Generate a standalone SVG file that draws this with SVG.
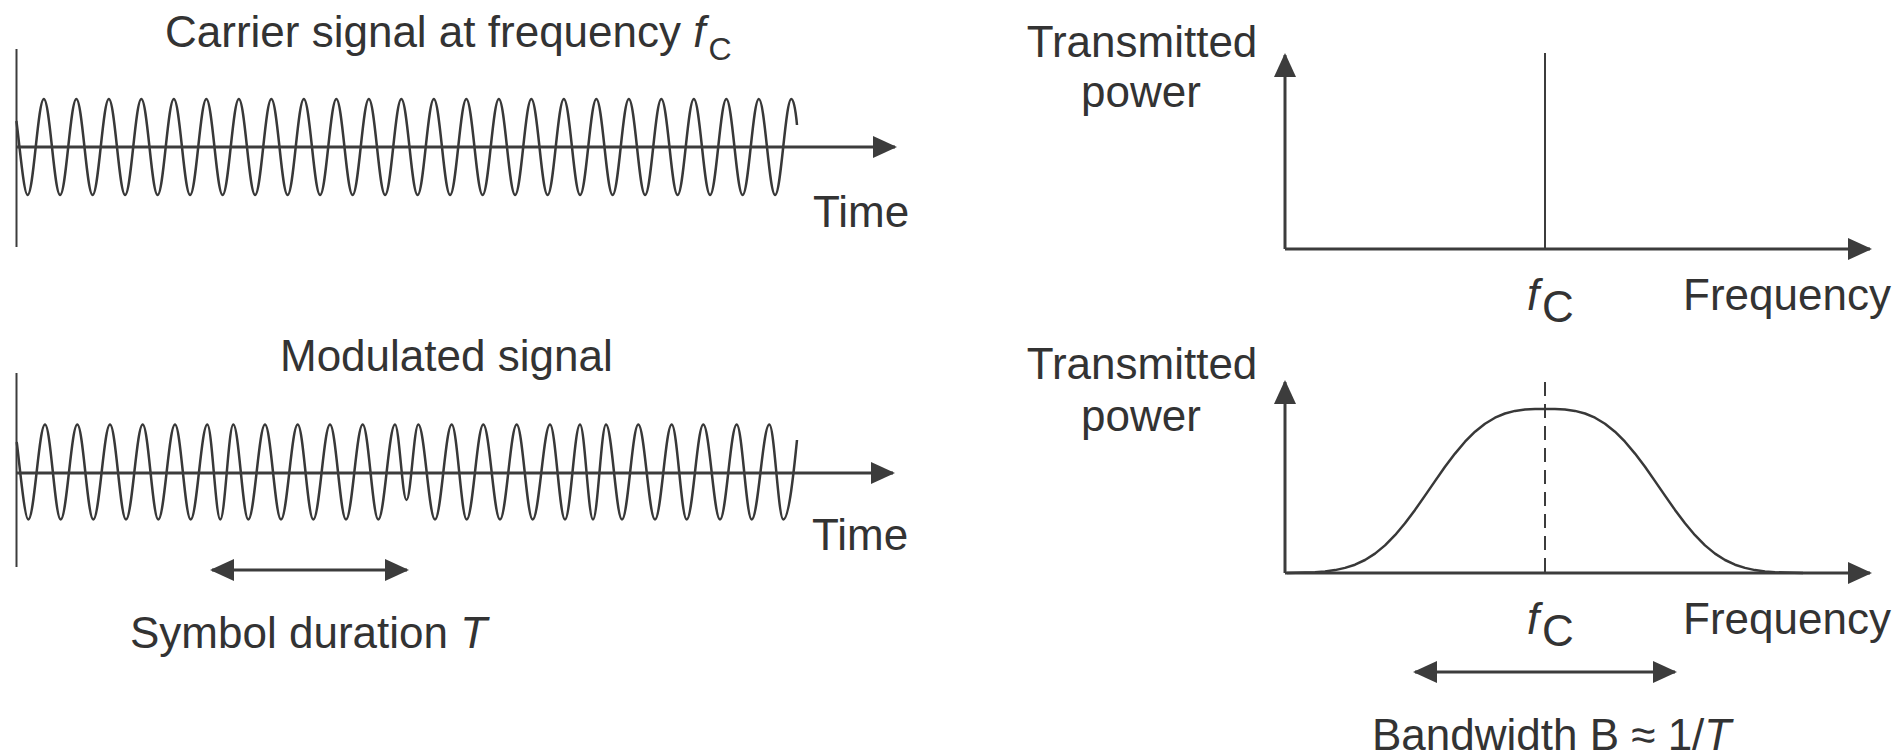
<svg xmlns="http://www.w3.org/2000/svg" width="1892" height="756" viewBox="0 0 1892 756">
<style>
  text { font-family: "Liberation Sans", Arial, Helvetica, sans-serif; font-size: 44px; fill: #333; }
  .it { font-style: italic; }
  .axis { stroke: #3c3c3c; stroke-width: 3; fill: none; }
  .thin { stroke: #3c3c3c; stroke-width: 2; fill: none; }
  .wave { stroke: #383838; stroke-width: 2.5; fill: none; stroke-linejoin: round; }
  .dash { stroke: #3c3c3c; stroke-width: 2; stroke-dasharray: 14 8; fill: none; }
</style>
<defs>
  <marker id="ah" markerUnits="userSpaceOnUse" markerWidth="24" markerHeight="22" viewBox="0 0 24 22" refX="22" refY="11" orient="auto-start-reverse">
    <path d="M0,0 L24,11 L0,22 z" fill="#3c3c3c"/>
  </marker>
</defs>
<rect width="1892" height="756" fill="#fff"/>

<g id="carrier-signal">
  <text x="165" y="47">Carrier signal at frequency <tspan class="it">f</tspan><tspan font-size="32" dx="3" dy="13">C</tspan></text>
  <path class="wave" d="M16.4,121 C20.1,149.5 23.9,195 27.6,195 c5.905,0 10.345,-96 16.25,-96 c5.905,0 10.345,96 16.25,96 c5.905,0 10.345,-96 16.25,-96 c5.905,0 10.345,96 16.25,96 c5.905,0 10.345,-96 16.25,-96 c5.905,0 10.345,96 16.25,96 c5.905,0 10.345,-96 16.25,-96 c5.905,0 10.345,96 16.25,96 c5.905,0 10.345,-96 16.25,-96 c5.905,0 10.345,96 16.25,96 c5.905,0 10.345,-96 16.25,-96 c5.905,0 10.345,96 16.25,96 c5.905,0 10.345,-96 16.25,-96 c5.905,0 10.345,96 16.25,96 c5.905,0 10.345,-96 16.25,-96 c5.905,0 10.345,96 16.25,96 c5.905,0 10.345,-96 16.25,-96 c5.905,0 10.345,96 16.25,96 c5.905,0 10.345,-96 16.25,-96 c5.905,0 10.345,96 16.25,96 c5.905,0 10.345,-96 16.25,-96 c5.905,0 10.345,96 16.25,96 c5.905,0 10.345,-96 16.25,-96 c5.905,0 10.345,96 16.25,96 c5.905,0 10.345,-96 16.25,-96 c5.905,0 10.345,96 16.25,96 c5.905,0 10.345,-96 16.25,-96 c5.905,0 10.345,96 16.25,96 c5.905,0 10.345,-96 16.25,-96 c5.905,0 10.345,96 16.25,96 c5.905,0 10.345,-96 16.25,-96 c5.905,0 10.345,96 16.25,96 c5.905,0 10.345,-96 16.25,-96 c5.905,0 10.345,96 16.25,96 c5.905,0 10.345,-96 16.25,-96 c5.905,0 10.345,96 16.25,96 c5.905,0 10.345,-96 16.25,-96 c5.905,0 10.345,96 16.25,96 c5.905,0 10.345,-96 16.25,-96 c5.905,0 10.345,96 16.25,96 c5.905,0 10.345,-96 16.25,-96 c5.905,0 10.345,96 16.25,96 c5.905,0 10.345,-96 16.25,-96 c5.905,0 10.345,96 16.25,96 c5.905,0 10.345,-96 16.25,-96 c5.905,0 10.345,96 16.25,96 c5.905,0 10.345,-96 16.25,-96 c2,0 4,8 5.65,26"/>
  <text x="813" y="227">Time</text>
</g>

<g id="modulated-signal">
  <text x="280" y="371">Modulated signal</text>
  <path class="wave" d="M16.7,442 C19.5,463 24.5,519.5 28.3,519.5 C34.37,519.5 38.93,424.5 45,424.5 C50.71,424.5 54.99,519.5 60.7,519.5 C66.73,519.5 71.27,424.5 77.3,424.5 C83.11,424.5 87.49,519.5 93.3,519.5 C99.37,519.5 103.93,424.5 110,424.5 C115.81,424.5 120.19,519.5 126,519.5 C132.07,519.5 136.63,424.5 142.7,424.5 C148.37,424.5 152.63,519.5 158.3,519.5 C164.37,519.5 168.93,424.5 175,424.5 C180.71,424.5 184.99,519.5 190.7,519.5 C196.73,519.5 201.27,424.5 207.3,424.5 C212.02,424.5 215.58,519.5 220.3,519.5 C225.02,519.5 228.58,424.5 233.3,424.5 C238.75,424.5 242.85,519.5 248.3,519.5 C254.37,519.5 258.93,424.5 265,424.5 C270.81,424.5 275.19,519.5 281,519.5 C287.07,519.5 291.63,424.5 297.7,424.5 C303.37,424.5 307.63,519.5 313.3,519.5 C319.37,519.5 323.93,424.5 330,424.5 C335.81,424.5 340.19,519.5 346,519.5 C352.07,519.5 356.63,424.5 362.7,424.5 C368.37,424.5 372.63,519.5 378.3,519.5 C384.37,519.5 388.93,424.5 395,424.5 C399.18,424.5 402.32,500 406.5,500 C410.79,500 414.01,424.5 418.3,424.5 C424.37,424.5 428.93,519.5 435,519.5 C441.07,519.5 445.63,424.5 451.7,424.5 C457.15,424.5 461.25,519.5 466.7,519.5 C472.73,519.5 477.27,424.5 483.3,424.5 C489.37,424.5 493.93,519.5 500,519.5 C506.07,519.5 510.63,424.5 516.7,424.5 C522.51,424.5 526.89,519.5 532.7,519.5 C538.99,519.5 543.71,424.5 550,424.5 C555.45,424.5 559.55,519.5 565,519.5 C570.45,519.5 574.55,424.5 580,424.5 C584.72,424.5 588.28,519.5 593,519.5 C597.72,519.5 601.28,424.5 606,424.5 C611.81,424.5 616.19,519.5 622,519.5 C627.92,519.5 632.38,424.5 638.3,424.5 C644.37,424.5 648.93,519.5 655,519.5 C661.07,519.5 665.63,424.5 671.7,424.5 C677.15,424.5 681.25,519.5 686.7,519.5 C692.73,519.5 697.27,424.5 703.3,424.5 C709.37,424.5 713.93,519.5 720,519.5 C726.07,519.5 730.63,424.5 736.7,424.5 C742.15,424.5 746.25,519.5 751.7,519.5 C758.1,519.5 762.9,424.5 769.3,424.5 C774.39,424.5 778.21,519.5 783.3,519.5 C789,519.5 794,470 797,440"/>
  <text x="812" y="550">Time</text>
  <text x="130" y="648">Symbol duration <tspan class="it">T</tspan></text>
</g>

<g id="carrier-spectrum">
  <text x="1142" y="57" text-anchor="middle">Transmitted</text>
  <text x="1141" y="107" text-anchor="middle">power</text>
  <line class="thin" x1="1545" y1="53" x2="1545" y2="249"/>
  <text x="1527" y="310" class="it" font-size="38">f</text>
  <text x="1542" y="322" font-size="30">C</text>
  <text x="1683" y="310">Frequency</text>
</g>

<g id="modulated-spectrum">
  <text x="1142" y="379" text-anchor="middle">Transmitted</text>
  <text x="1141" y="431" text-anchor="middle">power</text>
  <line class="dash" x1="1545" y1="382" x2="1545" y2="573"/>
  <polyline class="wave" points="1287,573 1305,572.6 1315,572.2 1325,571.4 1335,570.1 1345,567.9 1355,564.7 1365,560 1375,553.6 1385,545.4 1395,535.2 1405,523.3 1415,509.9 1425,495.6 1435,481.1 1445,466.8 1455,453.6 1465,441.7 1475,431.7 1485,423.7 1495,417.7 1505,413.5 1515,410.9 1525,409.6 1535,409.1 1545,409 1555,409.1 1565,409.6 1575,410.9 1585,413.5 1595,417.7 1605,423.7 1615,431.7 1625,441.7 1635,453.6 1645,466.8 1655,481.1 1665,495.6 1675,509.9 1685,523.3 1695,535.2 1705,545.4 1715,553.6 1725,560 1735,564.7 1745,567.9 1755,570.1 1765,571.4 1775,572.2 1785,572.6 1803,573"/>
  <text x="1527" y="634" class="it" font-size="38">f</text>
  <text x="1542" y="646" font-size="30">C</text>
  <text x="1683" y="634">Frequency</text>
  <text x="1372" y="750">Bandwidth B ≈ 1/<tspan class="it">T</tspan></text>
</g>

<g id="connectors">
  <line class="thin" x1="16.5" y1="49" x2="16.5" y2="247"/>
  <line class="axis" x1="16.5" y1="147" x2="895" y2="147" marker-end="url(#ah)"/>
  <line class="thin" x1="16.5" y1="373" x2="16.5" y2="567"/>
  <line class="axis" x1="16.5" y1="473" x2="893" y2="473" marker-end="url(#ah)"/>
  <line class="axis" x1="212" y1="570" x2="407" y2="570" marker-start="url(#ah)" marker-end="url(#ah)"/>
  <line class="axis" x1="1285" y1="249" x2="1285" y2="55" marker-end="url(#ah)"/>
  <line class="axis" x1="1285" y1="249" x2="1870" y2="249" marker-end="url(#ah)"/>
  <line class="axis" x1="1285" y1="573" x2="1285" y2="382" marker-end="url(#ah)"/>
  <line class="axis" x1="1285" y1="573" x2="1870" y2="573" marker-end="url(#ah)"/>
  <line class="axis" x1="1415" y1="672" x2="1675" y2="672" marker-start="url(#ah)" marker-end="url(#ah)"/>
</g>
</svg>
